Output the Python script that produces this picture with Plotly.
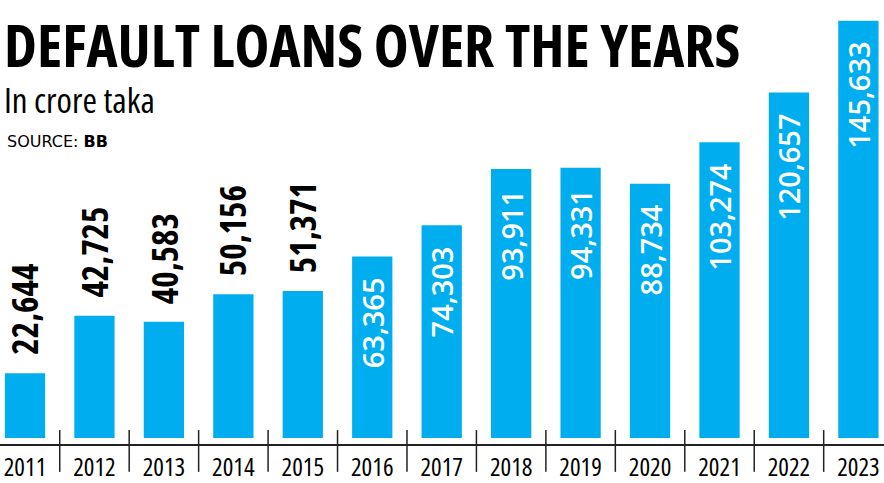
import plotly.graph_objects as go

# ---- data ----
years = ["2011", "2012", "2013", "2014", "2015", "2016", "2017",
         "2018", "2019", "2020", "2021", "2022", "2023"]
values = [22644, 42725, 40583, 50156, 51371, 63365, 74303,
          93911, 94331, 88734, 103274, 120657, 145633]
labels = ["22,644", "42,725", "40,583", "50,156", "51,371", "63,365", "74,303",
          "93,911", "94,331", "88,734", "103,274", "120,657", "145,633"]
inside_from = 5  # labels from this index on sit inside the bars

title_text = "DEFAULT LOANS OVER THE YEARS"
subtitle_text = "In crore taka"
source_text = "SOURCE: <b>BB</b>"

# ---- layout constants ----
W, H = 884, 483
PLOT_H = 446           # plot area height in px (bottom margin below)
PITCH = 69.45          # px per category
FIRST_CENTER = 25      # px centre of first bar
BLUE = "#00AEEF"
FONT = "Open Sans"


def cond(t, stretch="condensed"):
    return f"<span style='font-stretch:{stretch}'>{t}</span>"


x_idx = list(range(len(years)))
x0 = -FIRST_CENTER / PITCH
x1 = x0 + W / PITCH

px_per_unit = 420 / 145633
y_lo = -6 / px_per_unit
y_hi = 441 / px_per_unit


def py(p):
    """pixel from top -> paper y"""
    return 1 - p / PLOT_H


def px(p):
    return p / W


fig = go.Figure()
fig.add_trace(go.Bar(
    x=x_idx, y=values, width=0.58,
    marker=dict(color=BLUE, line=dict(width=0)),
    hoverinfo="skip",
))

annotations = []
for i, (v, lab) in enumerate(zip(values, labels)):
    if i < inside_from:
        annotations.append(dict(
            x=i, y=v, xref="x", yref="y", text=cond(lab), showarrow=False,
            textangle=-90, yanchor="bottom", xanchor="center", yshift=16,
            font=dict(family=FONT, size=35, color="black", weight="bold"),
        ))
    else:
        annotations.append(dict(
            x=i, y=v, xref="x", yref="y", text=lab, showarrow=False,
            textangle=-90, yanchor="top", xanchor="center", yshift=-19,
            font=dict(family=FONT, size=29, color="white", weight=600),
        ))

annotations += [
    dict(x=px(2), y=py(44), xref="paper", yref="paper", text=cond(title_text),
         showarrow=False, xanchor="left", yanchor="middle",
         font=dict(family=FONT, size=59, color="black", weight="bold")),
    dict(x=px(2), y=py(100), xref="paper", yref="paper", text=cond(subtitle_text),
         showarrow=False, xanchor="left", yanchor="middle",
         font=dict(family=FONT, size=35, color="black")),
    dict(x=px(5), y=py(142), xref="paper", yref="paper", text=source_text,
         showarrow=False, xanchor="left", yanchor="middle",
         font=dict(family="DejaVu Sans", size=16, color="black")),
]

shapes = []
for i in range(len(years) - 1):
    shapes.append(dict(
        type="line", xref="x", yref="paper",
        x0=i + 0.5, x1=i + 0.5, y0=py(432), y1=py(474),
        line=dict(color="#222222", width=1.5),
    ))

fig.update_layout(
    width=W, height=H,
    margin=dict(l=0, r=0, t=0, b=H - PLOT_H),
    paper_bgcolor="white", plot_bgcolor="white",
    showlegend=False,
    annotations=annotations,
    shapes=shapes,
    xaxis=dict(
        range=[x0, x1], tickmode="array", tickvals=x_idx,
        ticktext=[cond(y) for y in years],
        showgrid=False, zeroline=False, showline=True, linecolor="#222222",
        linewidth=1.5, ticks="", ticklabelstandoff=0,
        tickfont=dict(family=FONT, size=25, color="black"),
    ),
    yaxis=dict(range=[y_lo, y_hi], visible=False, showgrid=False, zeroline=False),
)

fig.write_html("out.html", config={"displayModeBar": False},
               post_script="document.body.style.margin='0';")
